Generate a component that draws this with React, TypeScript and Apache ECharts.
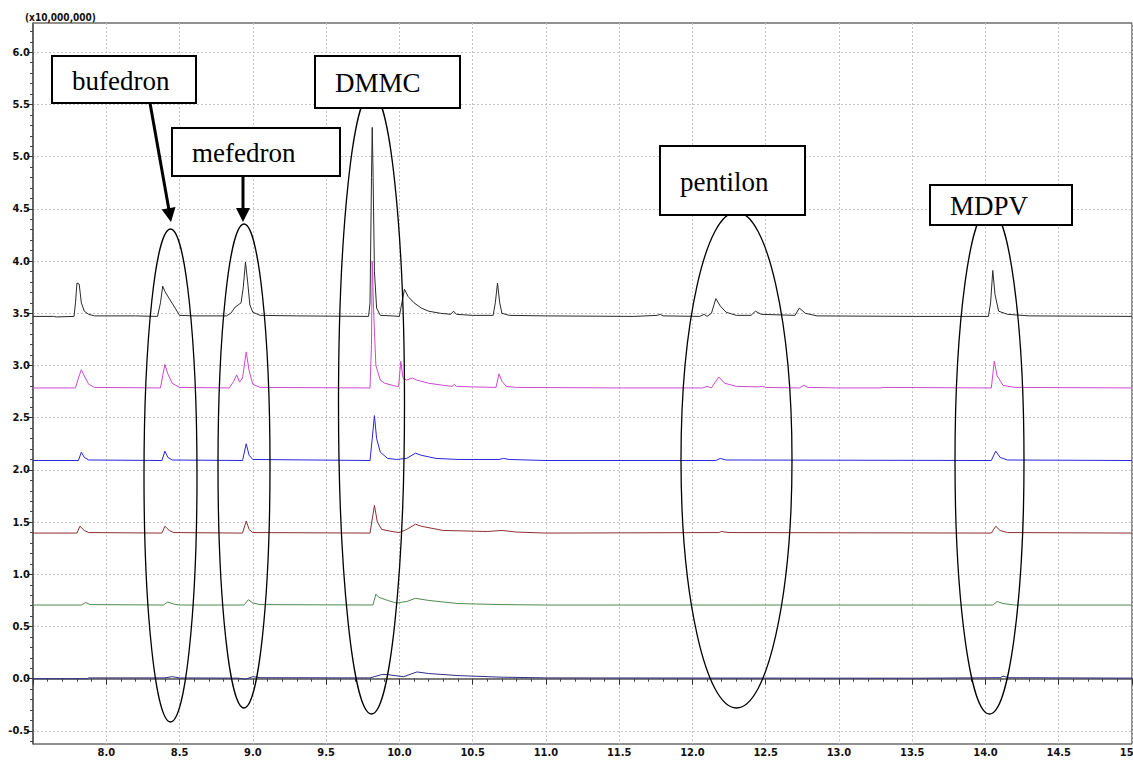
import React, { useEffect, useRef } from "react";
import * as echarts from "echarts";

// Retention time (min) / intensity (x10,000,000)
const xMin = 7.5;
const xMax = 15.0;
const yMin = -0.625;
const yMax = 6.28;
const yMajorTicks = [-0.5, 0.0, 0.5, 1.0, 1.5, 2.0, 2.5, 3.0, 3.5, 4.0, 4.5, 5.0, 5.5, 6.0];
const yUnitLabel = "(x10,000,000)";

const traceBlack: [number, number][] = [
  [7.5, 3.47], [7.64, 3.47], [7.66, 3.465], [7.78, 3.47], [7.79, 3.6], [7.80, 3.79], [7.815, 3.78], [7.83, 3.6],
  [7.85, 3.52], [7.88, 3.49], [7.92, 3.475], [8.0, 3.475], [8.2, 3.475], [8.35, 3.47], [8.37, 3.6], [8.385, 3.76],
  [8.40, 3.71], [8.43, 3.64], [8.47, 3.55], [8.50, 3.48], [8.6, 3.475], [8.82, 3.475], [8.85, 3.5], [8.88, 3.56],
  [8.90, 3.58], [8.92, 3.6], [8.935, 3.75], [8.95, 3.99], [8.965, 3.8], [8.98, 3.58], [9.0, 3.51], [9.05, 3.48],
  [9.3, 3.475], [9.79, 3.47], [9.80, 3.6], [9.81, 4.8], [9.815, 5.28], [9.82, 4.9], [9.83, 3.9], [9.845, 3.55],
  [9.87, 3.48], [9.95, 3.475], [10.0, 3.47], [10.02, 3.62], [10.035, 3.73], [10.06, 3.66], [10.1, 3.6], [10.15, 3.55],
  [10.2, 3.52], [10.28, 3.5], [10.35, 3.49], [10.37, 3.52], [10.39, 3.49], [10.5, 3.48], [10.64, 3.48], [10.655, 3.6],
  [10.67, 3.79], [10.685, 3.6], [10.7, 3.5], [10.75, 3.48], [11.0, 3.475], [11.6, 3.47], [11.76, 3.48], [11.78, 3.49],
  [11.8, 3.475], [12.05, 3.47], [12.08, 3.49], [12.10, 3.47], [12.13, 3.5], [12.16, 3.64], [12.19, 3.57], [12.23, 3.51],
  [12.3, 3.48], [12.4, 3.48], [12.43, 3.52], [12.47, 3.49], [12.7, 3.48], [12.73, 3.55], [12.77, 3.5], [12.85, 3.475],
  [13.5, 3.47], [14.02, 3.47], [14.035, 3.6], [14.05, 3.91], [14.065, 3.68], [14.09, 3.52], [14.15, 3.49], [14.3, 3.475],
  [15.0, 3.47],
];

const tracePink: [number, number][] = [
  [7.5, 2.785], [7.79, 2.785], [7.81, 2.88], [7.83, 2.96], [7.85, 2.9], [7.88, 2.82], [7.92, 2.79], [8.37, 2.785],
  [8.385, 2.9], [8.40, 3.01], [8.42, 2.92], [8.45, 2.83], [8.5, 2.79], [8.84, 2.785], [8.87, 2.85], [8.89, 2.91],
  [8.91, 2.84], [8.93, 2.88], [8.955, 3.13], [8.975, 2.95], [9.0, 2.82], [9.05, 2.79], [9.8, 2.785], [9.81, 3.2],
  [9.815, 4.0], [9.825, 3.5], [9.84, 3.0], [9.87, 2.86], [9.9, 2.83], [9.98, 2.8], [9.995, 2.8], [10.01, 3.04],
  [10.025, 2.88], [10.05, 2.86], [10.09, 2.88], [10.12, 2.86], [10.2, 2.83], [10.3, 2.81], [10.36, 2.8], [10.375, 2.82],
  [10.39, 2.8], [10.5, 2.795], [10.66, 2.79], [10.68, 2.92], [10.70, 2.85], [10.73, 2.8], [10.8, 2.79], [11.5, 2.785],
  [12.07, 2.785], [12.1, 2.80], [12.13, 2.785], [12.18, 2.89], [12.22, 2.83], [12.3, 2.8], [12.45, 2.795], [12.48, 2.8],
  [12.5, 2.79], [12.73, 2.785], [12.76, 2.81], [12.79, 2.79], [13.0, 2.785], [13.28, 2.785], [13.3, 2.79], [14.04, 2.785],
  [14.06, 3.04], [14.08, 2.9], [14.12, 2.81], [14.2, 2.79], [15.0, 2.785],
];

const traceBlue: [number, number][] = [
  [7.5, 2.09], [7.81, 2.09], [7.83, 2.17], [7.85, 2.12], [7.88, 2.095], [8.38, 2.09], [8.40, 2.18], [8.42, 2.12],
  [8.45, 2.095], [8.93, 2.09], [8.955, 2.25], [8.975, 2.14], [9.0, 2.1], [9.8, 2.09], [9.815, 2.3], [9.83, 2.52],
  [9.845, 2.3], [9.87, 2.17], [9.92, 2.11], [9.98, 2.1], [10.05, 2.11], [10.11, 2.16], [10.15, 2.14], [10.25, 2.11],
  [10.4, 2.1], [10.68, 2.1], [10.71, 2.11], [10.75, 2.1], [11.0, 2.09], [12.16, 2.09], [12.19, 2.11], [12.23, 2.095],
  [14.04, 2.09], [14.07, 2.18], [14.1, 2.12], [14.15, 2.095], [15.0, 2.09],
];

const traceBrown: [number, number][] = [
  [7.5, 1.395], [7.8, 1.395], [7.82, 1.46], [7.85, 1.42], [7.88, 1.40], [8.38, 1.395], [8.40, 1.46], [8.43, 1.42],
  [8.46, 1.40], [8.93, 1.395], [8.955, 1.51], [8.975, 1.43], [9.0, 1.40], [9.8, 1.395], [9.83, 1.66], [9.85, 1.5],
  [9.88, 1.43], [9.95, 1.41], [10.0, 1.40], [10.05, 1.43], [10.11, 1.48], [10.15, 1.46], [10.3, 1.42], [10.6, 1.41],
  [10.7, 1.42], [10.8, 1.405], [11.0, 1.395], [12.18, 1.4], [12.2, 1.41], [12.25, 1.40], [14.04, 1.395], [14.07, 1.46],
  [14.1, 1.42], [14.15, 1.40], [15.0, 1.395],
];

const traceGreen: [number, number][] = [
  [7.5, 0.706], [7.83, 0.706], [7.86, 0.73], [7.89, 0.71], [8.39, 0.706], [8.42, 0.735], [8.46, 0.715], [8.5, 0.706],
  [8.94, 0.706], [8.97, 0.757], [9.0, 0.725], [9.05, 0.71], [9.82, 0.706], [9.84, 0.81], [9.86, 0.78], [9.92, 0.75],
  [9.98, 0.725], [10.05, 0.74], [10.11, 0.77], [10.2, 0.75], [10.4, 0.72], [10.7, 0.71], [11.0, 0.706], [12.2, 0.706],
  [14.05, 0.706], [14.08, 0.74], [14.12, 0.72], [14.2, 0.706], [15.0, 0.706],
];

const traceNavy: [number, number][] = [
  [7.5, 0.0], [7.87, 0.0], [7.88, 0.008], [8.4, 0.008], [8.45, 0.02], [8.5, 0.008], [8.9, 0.006], [8.95, -0.005],
  [9.0, 0.02], [9.05, 0.01], [9.8, 0.008], [9.88, 0.04], [9.92, 0.04], [9.97, 0.03], [10.03, 0.02], [10.12, 0.065],
  [10.2, 0.05], [10.4, 0.03], [10.7, 0.015], [11.0, 0.008], [13.5, 0.005], [14.1, 0.01], [14.12, 0.025], [14.16, 0.01],
  [15.0, 0.006],
];

const traces = [
  { name: "navy", data: traceNavy, color: "#2e2e86" },
  { name: "green", data: traceGreen, color: "#4f8a4f" },
  { name: "brown", data: traceBrown, color: "#8e2f2f" },
  { name: "blue", data: traceBlue, color: "#2626dd" },
  { name: "pink", data: tracePink, color: "#d048d0" },
  { name: "black", data: traceBlack, color: "#2a2a2a" },
];

const compoundLabels = ["bufedron", "mefedron", "DMMC", "pentilon", "MDPV"];

// minor tick values (every 0.1) between the major ticks
const yMinorTicks: number[] = [];
for (let i = -6; i <= 62; i++) {
  if (i % 5 !== 0) yMinorTicks.push(Math.round(i * 10) / 100);
}

export default function App() {
  const ref = useRef<HTMLDivElement>(null);
  useEffect(() => {
    if (!ref.current) return;
    const chart = echarts.init(ref.current, null, { renderer: "svg" });
    const tickFont = {
      fontFamily: "'DejaVu Sans Condensed', 'Liberation Sans Narrow', sans-serif",
      fontWeight: "bold" as const,
      fontSize: 11,
      color: "#111",
    };
    const splitStyle = { color: "#c4c4c4", type: [2, 2] as number[], width: 1 };
    const boxFont = '27px "Liberation Serif", "Times New Roman", serif';

    const boxes = [
      { x: 52, y: 56, w: 144, h: 47, label: compoundLabels[0] },
      { x: 172, y: 128, w: 168, h: 48, label: compoundLabels[1] },
      { x: 315, y: 56, w: 145, h: 52, label: compoundLabels[2] },
      { x: 660, y: 146, w: 145, h: 69, label: compoundLabels[3] },
      { x: 930, y: 185, w: 142, h: 40, label: compoundLabels[4] },
    ];
    const ellipses = [
      { cx: 170.5, cy: 475.5, rx: 26.5, ry: 246.5 },
      { cx: 244, cy: 466, rx: 26, ry: 242 },
      { cx: 371.5, cy: 403, rx: 33, ry: 311 },
      { cx: 736.5, cy: 460, rx: 55.5, ry: 248 },
      { cx: 989.5, cy: 461, rx: 34.5, ry: 253 },
    ];

    const graphic: any[] = [];
    graphic.push({
      type: "text",
      left: 25,
      top: 12,
      z: 50,
      style: {
        text: yUnitLabel,
        font: "bold 10px 'DejaVu Sans Condensed', sans-serif",
        fill: "#111",
      },
    });
    ellipses.forEach((e) => {
      graphic.push({
        type: "ellipse",
        z: 60,
        shape: { cx: e.cx, cy: e.cy, rx: e.rx, ry: e.ry },
        style: { fill: "none", stroke: "#000", lineWidth: 1.3 },
      });
    });
    boxes.forEach((b) => {
      graphic.push({
        type: "rect",
        z: 70,
        shape: { x: b.x, y: b.y, width: b.w, height: b.h },
        style: { fill: "#fff", stroke: "#000", lineWidth: 2 },
      });
      graphic.push({
        type: "text",
        z: 71,
        x: b.x + 20,
        y: b.y + b.h / 2 + 1,
        style: {
          text: b.label,
          font: boxFont,
          fill: "#000",
          textVerticalAlign: "middle",
          verticalAlign: "middle",
        },
      });
    });
    // arrows
    graphic.push({
      type: "line",
      z: 72,
      shape: { x1: 150, y1: 103, x2: 168.8, y2: 209 },
      style: { stroke: "#000", lineWidth: 3 },
    });
    graphic.push({
      type: "polygon",
      z: 72,
      shape: { points: [[171, 222], [175.5, 207], [161.7, 209.4]] },
      style: { fill: "#000" },
    });
    graphic.push({
      type: "line",
      z: 72,
      shape: { x1: 243, y1: 176, x2: 243, y2: 209 },
      style: { stroke: "#000", lineWidth: 3 },
    });
    graphic.push({
      type: "polygon",
      z: 72,
      shape: { points: [[243, 222], [236, 208], [250, 208]] },
      style: { fill: "#000" },
    });

    chart.setOption({
      animation: false,
      backgroundColor: "#fff",
      grid: {
        left: 33,
        right: 1,
        top: 23,
        bottom: 23,
        containLabel: false,
        outerBoundsMode: "none",
        show: true,
        borderColor: "#222",
        borderWidth: 1,
        backgroundColor: "transparent",
      },
      xAxis: {
        type: "value",
        min: xMin,
        max: xMax,
        interval: 0.5,
        axisLine: { show: true, lineStyle: { color: "#555", width: 1.5 } },
        axisTick: { show: true, length: 6, lineStyle: { color: "#333" } },
        minorTick: { show: true, splitNumber: 5, length: 3, lineStyle: { color: "#444" } },
        axisLabel: {
          ...tickFont,
          margin: 3,
          showMinLabel: true,
          showMaxLabel: true,
          hideOverlap: false,
          formatter: (v: number) => (Math.abs(v - xMin) < 1e-6 ? "" : v.toFixed(1)),
        },
        splitLine: { show: true, lineStyle: splitStyle },
        minorSplitLine: { show: false },
      },
      yAxis: [
        {
          type: "value",
          min: yMin,
          max: yMax,
          axisLine: { show: true, onZero: false, lineStyle: { color: "#555", width: 1.5 } },
          axisTick: { show: true, length: 6, customValues: yMajorTicks, lineStyle: { color: "#333" } },
          axisLabel: {
            ...tickFont,
            margin: 3,
            customValues: yMajorTicks,
            formatter: (v: number) => v.toFixed(1),
          },
          splitLine: { show: true, lineStyle: splitStyle },
        },
        {
          type: "value",
          min: yMin,
          max: yMax,
          position: "left",
          axisLine: { show: false },
          axisLabel: { show: false },
          axisTick: { show: true, length: 3, customValues: yMinorTicks, lineStyle: { color: "#444" } },
          splitLine: { show: false },
        },
      ],
      series: traces.map((t) => ({
        name: t.name,
        type: "line",
        data: t.data,
        yAxisIndex: 0,
        showSymbol: false,
        symbol: "none",
        silent: true,
        clip: true,
        lineStyle: { color: t.color, width: 1 },
      })),
      graphic,
    });
    return () => chart.dispose();
  }, []);
  return (
    <div
      ref={ref}
      style={{ position: "fixed", left: 0, top: 0, width: 1133, height: 767, background: "#fff" }}
    />
  );
}
